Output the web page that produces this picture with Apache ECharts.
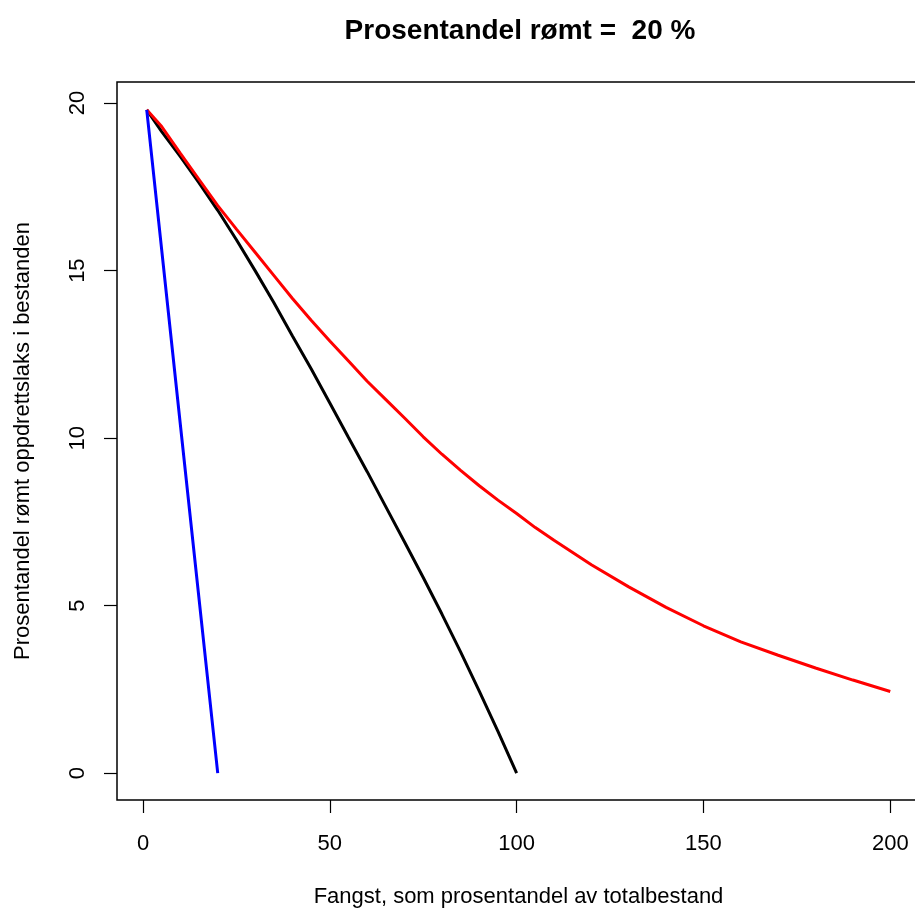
<!DOCTYPE html>
<html>
<head>
<meta charset="utf-8">
<title>Prosentandel rømt</title>
<script src="https://cdn.jsdelivr.net/npm/echarts@6.0.0/dist/echarts.min.js"></script>
<style>
    html, body {
        margin: 0;
        padding: 0;
        background: #ffffff;
    }
    #myEcharts {
        width: 915px;
        height: 913px;
    }
</style>
</head>
<body>
<div id="myEcharts"></div>
<script>
    // fangst (x) og prosentandel rømt (y), lest av figuren
    var fangstSort = [1, 5, 10, 15, 20, 25, 30, 35, 40, 45, 50, 55, 60, 65, 70, 75, 80, 85, 90, 95, 100];
    var romtSort = [19.8, 19.15, 18.4, 17.62, 16.8, 15.92, 15.0, 14.05, 13.05, 12.07, 11.05, 10.02, 9.0, 7.95, 6.9, 5.84, 4.75, 3.62, 2.45, 1.25, 0];

    var fangstRod = [1, 5, 10, 15, 20, 25, 30, 35, 40, 45, 50, 55, 60, 65, 70, 75, 80, 85, 90, 95, 100,
        105, 110, 120, 130, 140, 150, 160, 170, 180, 190, 200];
    var romtRod = [19.8, 19.3, 18.5, 17.72, 16.94, 16.24, 15.55, 14.86, 14.17, 13.52, 12.9, 12.3, 11.7, 11.15, 10.6, 10.04, 9.52, 9.04, 8.58, 8.15, 7.75,
        7.33, 6.95, 6.22, 5.56, 4.95, 4.4, 3.92, 3.52, 3.14, 2.78, 2.44];

    var fangstBla = [1, 10, 20];
    var romtBla = [19.8, 10.4, 0];

    // aksemerker
    var xTicks = [0, 50, 100, 150, 200];
    var yTicks = [0, 5, 10, 15, 20];

    function pairs(xs, ys) {
        var out = [];
        xs.forEach(function (x, i) {
            out.push([x, ys[i]]);
        });
        return out;
    }

    var font = 'Liberation Sans, Arial, sans-serif';

    var options = {
        animation: false,
        title: {
            text: 'Prosentandel rømt =  20 %',
            left: 515,
            top: 12,
            textAlign: 'center',
            textStyle: {
                fontFamily: font,
                fontSize: 28,
                fontWeight: 'bold',
                color: '#000'
            }
        },
        grid: {
            left: 117,
            top: 82,
            width: 803,
            bottom: 113,
            outerBoundsMode: 'none',
            show: true,
            borderColor: '#000',
            borderWidth: 1.5,
            backgroundColor: 'transparent'
        },
        xAxis: {
            type: 'value',
            min: -6.96,
            max: 207.96,
            splitLine: {show: false},
            axisLine: {show: false, onZero: false},
            axisTick: {
                show: true,
                length: 13,
                customValues: xTicks,
                lineStyle: {color: '#000', width: 1.2}
            },
            axisLabel: {
                customValues: xTicks,
                margin: 33,
                fontFamily: font,
                fontSize: 22,
                color: '#000'
            },
            name: 'Fangst, som prosentandel av totalbestand',
            nameLocation: 'middle',
            nameGap: 86,
            nameTextStyle: {
                fontFamily: font,
                fontSize: 22,
                color: '#000'
            }
        },
        yAxis: {
            type: 'value',
            min: -0.8,
            max: 20.63,
            splitLine: {show: false},
            axisLine: {show: false, onZero: false},
            axisTick: {
                show: true,
                length: 13,
                customValues: yTicks,
                lineStyle: {color: '#000', width: 1.2}
            },
            axisLabel: {
                customValues: yTicks,
                rotate: 90,
                margin: 28,
                fontFamily: font,
                fontSize: 22,
                color: '#000'
            },
            name: 'Prosentandel rømt oppdrettslaks i bestanden',
            nameLocation: 'middle',
            nameGap: 83,
            nameTextStyle: {
                fontFamily: font,
                fontSize: 22,
                color: '#000'
            }
        },
        series: [
            {
                name: 'sort',
                type: 'line',
                showSymbol: false,
                data: pairs(fangstSort, romtSort),
                lineStyle: {color: '#000000', width: 3}
            },
            {
                name: 'rød',
                type: 'line',
                showSymbol: false,
                data: pairs(fangstRod, romtRod),
                lineStyle: {color: '#ff0000', width: 3}
            },
            {
                name: 'blå',
                type: 'line',
                showSymbol: false,
                data: pairs(fangstBla, romtBla),
                lineStyle: {color: '#0000ff', width: 3}
            }
        ]
    };

    var chart = echarts.init(document.getElementById('myEcharts'));
    chart.setOption(options);
</script>
</body>
</html>
